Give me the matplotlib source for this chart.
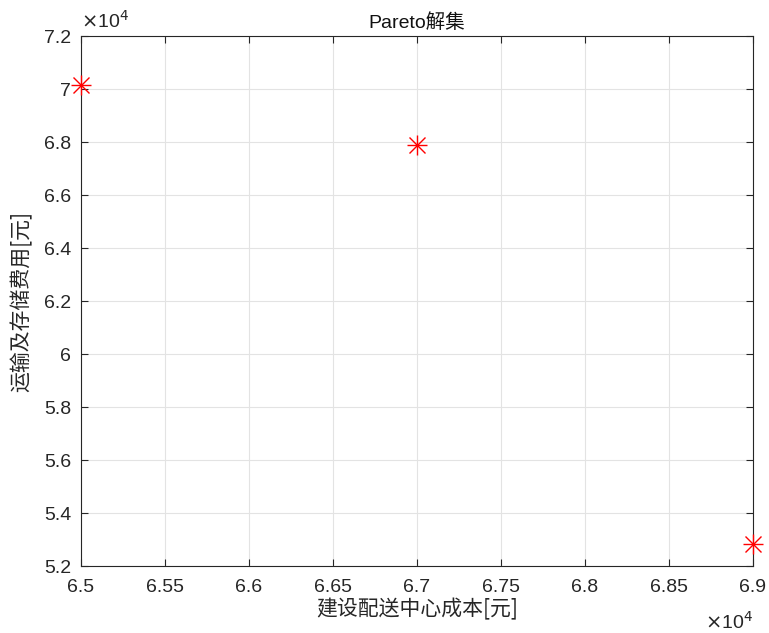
import matplotlib
matplotlib.use("Agg")
import matplotlib.pyplot as plt
from matplotlib.ticker import FuncFormatter

plt.rcParams['font.family'] = ['Liberation Sans', 'Noto Sans CJK SC']
plt.rcParams['axes.unicode_minus'] = False

# pareto points
cost_build = [65000, 67000, 69000]
cost_trans = [70150, 67880, 52830]
xticks = [65000, 65500, 66000, 66500, 67000, 67500, 68000, 68500, 69000]
yticks = [52000, 54000, 56000, 58000, 60000, 62000, 64000, 66000, 68000, 70000, 72000]

fig = plt.figure(figsize=(7.69, 6.33), dpi=100)
ax = fig.add_axes([0.1053, 0.1058, 0.8736, 0.8373])

# matlab style asterisk = plus + cross
for m in ['+', 'x']:
    ax.plot(cost_build, cost_trans, linestyle='none', marker=m,
            markersize=15 if m == '+' else 11,
            color='red', markeredgewidth=1.0, clip_on=False, zorder=5)

ax.set_xlim(65000, 69000)
ax.set_ylim(52000, 72000)
ax.set_xticks(xticks)
ax.set_yticks(yticks)

fmt = FuncFormatter(lambda v, p: '%g' % round(v / 1e4, 4))
ax.xaxis.set_major_formatter(fmt)
ax.yaxis.set_major_formatter(fmt)

ax.grid(True, color='#e3e3e3', linewidth=0.8)
ax.set_axisbelow(True)
ax.tick_params(direction='in', top=True, right=True, length=5, width=0.8,
               colors='#262626', labelsize=14, pad=7)
ax.tick_params(axis='x', pad=9)
for s in ax.spines.values():
    s.set_color('#262626')
    s.set_linewidth(0.8)

# exponent labels
ax.text(0.0, 1.008, r'$\times$10$^4$', transform=ax.transAxes, fontsize=14,
        color='#262626', ha='left', va='bottom')
ax.text(1.0, -0.085, r'$\times$10$^4$', transform=ax.transAxes, fontsize=14,
        color='#262626', ha='right', va='top')

ax.set_title('Pareto解集', fontsize=14, pad=6, color='#111111')
ax.set_xlabel('建设配送中心成本[元]', fontsize=15, color='#262626', labelpad=2,
              family=['Noto Sans CJK SC'])
ax.set_ylabel('运输及存储费用[元]', fontsize=15, color='#262626', labelpad=8,
              family=['Noto Sans CJK SC'])

fig.savefig('out.png', dpi=100)
